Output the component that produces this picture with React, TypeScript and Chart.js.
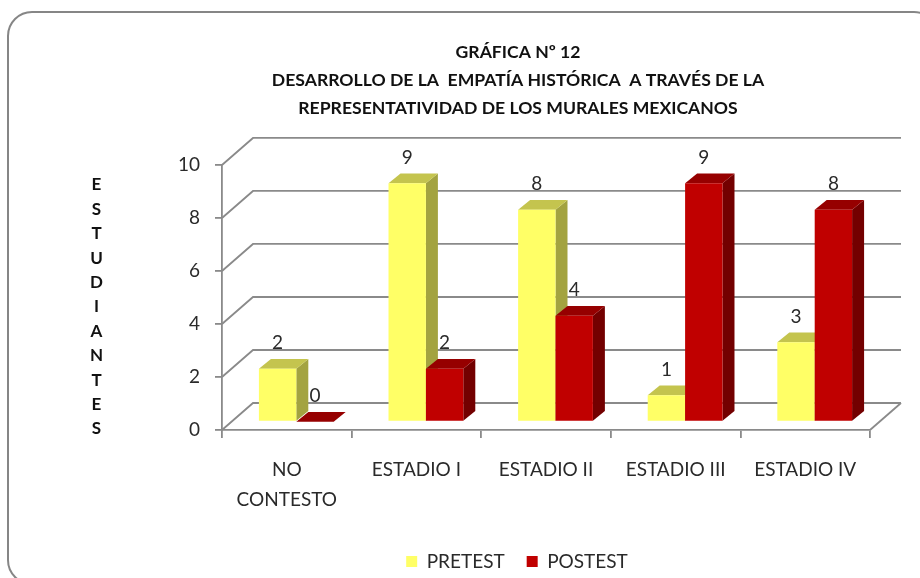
import React, { useEffect, useRef } from "react";
import { Chart, registerables } from "chart.js";

Chart.register(...registerables);

const categories = [["NO", "CONTESTO"], "ESTADIO I", "ESTADIO II", "ESTADIO III", "ESTADIO IV"];
const pretest = [2, 9, 8, 1, 3];
const postest = [0, 2, 4, 9, 8];
const titleLines = [
  "GRÁFICA Nº 12",
  "DESARROLLO DE LA  EMPATÍA HISTÓRICA  A TRAVÉS DE LA",
  "REPRESENTATIVIDAD DE LOS MURALES MEXICANOS",
];
const axisLetters = "ESTUDIANTES".split("");

const FONT = "Lato";
const INK = "#2a2a2a";
const AXIS = "#8a8a8a";
const FRONT = ["#FFFF66", "#C00000"];
const TOP = ["#C4C44E", "#960000"];
const SIDE = ["#A3A340", "#730000"];

// offset of the bars' front plane from the front axis plane, and bar depth
const PLANE_DX = 9.5;
const PLANE_DY = -8.3;
const DEPTH_DX = 12;
const DEPTH_DY = -9.7;
// depth of the back wall
const WALL_DX = 31;
const WALL_DY = -27;

const poly = (ctx: CanvasRenderingContext2D, pts: number[][], fill: string) => {
  ctx.fillStyle = fill;
  ctx.beginPath();
  pts.forEach(([x, y], i) => (i ? ctx.lineTo(x, y) : ctx.moveTo(x, y)));
  ctx.closePath();
  ctx.fill();
};

const drawDepth = (chart: any, i: number) => {
  const ctx = chart.ctx;
  chart.getDatasetMeta(i).data.forEach((b: any) => {
    const l = b.x - b.width / 2;
    const r = b.x + b.width / 2;
    const t = b.y;
    const base = b.base;
    poly(ctx, [[r, t], [r + DEPTH_DX, t + DEPTH_DY], [r + DEPTH_DX, base + DEPTH_DY], [r, base]], SIDE[i]);
    poly(ctx, [[l, t], [l + DEPTH_DX, t + DEPTH_DY], [r + DEPTH_DX, t + DEPTH_DY], [r, t]], TOP[i]);
  });
};

const decor = {
  id: "decor",
  afterLayout(chart: any) {
    // title and legend are centred right of the canvas middle in the reference
    chart.titleBlock.left = 116;
    chart.titleBlock.right = 920;
    chart.legend.left = 114;
    chart.legend.right = 920;
    chart.legend.top += 3;
    chart.legend.bottom += 3;
  },
  beforeDraw(chart: any) {
    const ctx = chart.ctx;
    ctx.save();
    ctx.strokeStyle = "#868686";
    ctx.lineWidth = 2;
    ctx.beginPath();
    ctx.roundRect(8, 12, 930, 572, 24);
    ctx.stroke();
    ctx.fillStyle = "#111";
    ctx.font = `bold 17px ${FONT}`;
    ctx.textAlign = "center";
    ctx.textBaseline = "middle";
    axisLetters.forEach((c, i) => ctx.fillText(c, 96.5, 185 + i * 24.4));
    ctx.restore();
  },
  beforeDatasetsDraw(chart: any) {
    const ctx = chart.ctx;
    const { x, y } = chart.scales;
    ctx.save();
    ctx.strokeStyle = AXIS;
    ctx.lineWidth = 1.8;
    y.ticks.forEach((t: any) => {
      const py = y.getPixelForValue(t.value);
      ctx.beginPath();
      ctx.moveTo(x.left, py);
      ctx.lineTo(x.left + WALL_DX, py + WALL_DY);
      ctx.lineTo(x.right + WALL_DX, py + WALL_DY);
      ctx.stroke();
    });
    ctx.beginPath();
    ctx.moveTo(x.right, y.bottom);
    ctx.lineTo(x.right + WALL_DX, y.bottom + WALL_DY);
    ctx.stroke();
    ctx.restore();
    ctx.save();
    ctx.translate(PLANE_DX, PLANE_DY);
  },
  // Chart.js paints the last dataset first; POSTEST has to sit over PRETEST here,
  // so its pass is skipped and done straight after PRETEST's.
  beforeDatasetDraw(chart: any, args: any) {
    if (args.index === 1) return false;
    drawDepth(chart, 0);
  },
  afterDatasetDraw(chart: any, args: any) {
    if (args.index === 0) {
      drawDepth(chart, 1);
      chart.getDatasetMeta(1).controller.draw();
    }
  },
  afterDatasetsDraw(chart: any) {
    const ctx = chart.ctx;
    ctx.restore();
    ctx.save();
    ctx.fillStyle = INK;
    ctx.font = `19px ${FONT}`;
    ctx.textAlign = "center";
    ctx.textBaseline = "middle";
    chart.data.datasets.forEach((ds: any, i: number) => {
      chart.getDatasetMeta(i).data.forEach((b: any, j: number) => {
        ctx.fillText(String(ds.data[j]), b.x + PLANE_DX, b.y + PLANE_DY - 25.7);
      });
    });
    ctx.restore();
  },
};

export default function App() {
  const ref = useRef<HTMLCanvasElement>(null);
  useEffect(() => {
    const chart = new Chart(ref.current!, {
      type: "bar",
      data: {
        labels: categories as any,
        datasets: [
          { label: "PRETEST", data: pretest, backgroundColor: FRONT[0], borderWidth: 0, clip: false as any },
          { label: "POSTEST", data: postest, backgroundColor: FRONT[1], borderWidth: 0, clip: false as any },
        ],
      },
      options: {
        responsive: false,
        animation: false,
        devicePixelRatio: 1,
        events: [],
        layout: { padding: { left: 0, right: 50, top: 0, bottom: 0 } },
        datasets: { bar: { categoryPercentage: 0.577, barPercentage: 1 } },
        plugins: {
          tooltip: { enabled: false },
          title: {
            display: true,
            text: titleLines,
            color: "#111",
            font: { family: FONT, size: 17.6, weight: "bold", lineHeight: 1.59 },
            padding: { top: 38, bottom: 43 },
          },
          legend: {
            display: true,
            position: "bottom",
            labels: {
              boxWidth: 11,
              boxHeight: 11,
              padding: 22,
              color: INK,
              font: { family: FONT, size: 19 },
            },
          },
        },
        scales: {
          x: {
            grid: { drawOnChartArea: false, color: AXIS, lineWidth: 1.8, tickLength: 8 },
            border: { display: true, color: AXIS, width: 1.8 },
            ticks: {
              color: INK,
              font: { family: FONT, size: 19, lineHeight: 1.58 },
              padding: 17,
              maxRotation: 0,
              autoSkip: false,
            },
            afterFit(s: any) {
              s.height = 148 - s.chart.legend.height;
            },
          },
          y: {
            min: 0,
            max: 10,
            grid: { drawOnChartArea: false, color: AXIS, lineWidth: 1.8, tickLength: 7 },
            border: { display: true, color: AXIS, width: 1.8 },
            ticks: {
              stepSize: 2,
              color: INK,
              font: { family: FONT, size: 19 },
              padding: 15,
            },
            afterFit(s: any) {
              s.width = 222;
            },
          },
        },
      },
      plugins: [decor],
    } as any);
    return () => chart.destroy();
  }, []);
  return (
    <div style={{ position: "fixed", left: 0, top: 0, width: 920, height: 578, background: "#fff", overflow: "hidden" }}>
      <canvas ref={ref} width={920} height={578} style={{ display: "block" }} />
    </div>
  );
}
